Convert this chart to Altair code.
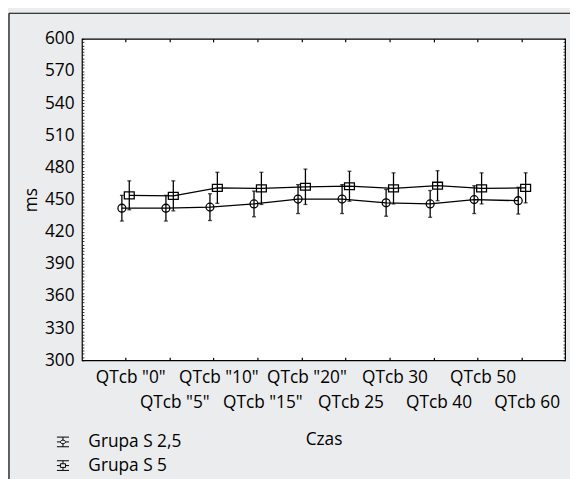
import json
import altair as alt
import pandas as pd

categories = ['QTcb "0"', 'QTcb "5"', 'QTcb "10"', 'QTcb "15"', 'QTcb "20"',
              'QTcb 25', 'QTcb 30', 'QTcb 40', 'QTcb 50', 'QTcb 60']
groups = ["Grupa S 2,5", "Grupa S 5"]

mean_s25 = [442, 442, 443, 446, 450.5, 450.5, 447, 446, 450, 449]
err_s25 = [12, 12, 12.5, 12, 13.5, 13.5, 12.5, 12.5, 13, 12.5]
mean_s5 = [454, 453.5, 461, 460.5, 462, 462.5, 460.5, 463, 460.5, 461]
err_s5 = [13.5, 14, 14.5, 15, 16.5, 14, 14.5, 14, 14.5, 14]

y_ticks = list(range(300, 601, 30))
y_minor = list(range(300, 601, 3))

rows = []
for g, means, errs in [(groups[0], mean_s25, err_s25), (groups[1], mean_s5, err_s5)]:
    for c, m, e in zip(categories, means, errs):
        rows.append({"czas": c, "grupa": g, "mean": m, "lo": m - e, "hi": m + e})
df = pd.DataFrame(rows)

W, H = 490, 326
FONT = "Open Sans"
FS = 17.5
odd_labels = json.dumps(categories[1::2])

xscale = alt.Scale(type="point", domain=categories, padding=0.985)
yscale = alt.Scale(domain=[300, 600], nice=False, zero=False)

ax_x_main = alt.Axis(title="Czas", orient="bottom", domain=False, ticks=False,
                     labelAngle=0, labelOverlap=False, labelFont=FONT, labelFontSize=FS,
                     labelColor="black", labelPadding=8, labelLineHeight=25.6, labelOffset=5,
                     labelExpr=f"indexof({odd_labels}, datum.value) >= 0 ? ['', datum.label] : datum.label",
                     titleFont=FONT, titleFontSize=FS, titleFontWeight="normal",
                     titleColor="black", titlePadding=20, zindex=1)
ax_y_main = alt.Axis(title="ms", orient="left", values=y_ticks, domain=False, ticks=False,
                     labelFont=FONT, labelFontSize=FS, labelColor="black", labelPadding=8,
                     titleFont=FONT, titleFontSize=FS, titleFontWeight="normal",
                     titleColor="black", titlePadding=4, grid=False, zindex=1)
# inward ticks: bottom edge (top-oriented axis moved down), top edge
ax_x_in_bottom = alt.Axis(title=None, orient="top", offset=-H, domain=False, labels=False,
                          ticks=True, tickSize=3, tickColor="black", tickWidth=1.2, zindex=1)
ax_x_in_top = alt.Axis(title=None, orient="bottom", offset=-H, domain=False, labels=False,
                       ticks=True, tickSize=3, tickColor="black", tickWidth=1.2, zindex=1)
ax_y_in_left = alt.Axis(title=None, orient="right", offset=-W, values=y_minor, domain=False,
                        labels=False, ticks=True, tickSize=2, tickColor="black",
                        tickWidth=0.8, grid=False, zindex=1)
ax_y_in_right = alt.Axis(title=None, orient="left", offset=-W, values=y_minor, domain=False,
                         labels=False, ticks=True, tickSize=2, tickColor="black",
                         tickWidth=0.8, grid=False, zindex=1)

base = alt.Chart(df)
OFF = {groups[0]: -3.5, groups[1]: 4}


def X(axis=None):
    return alt.X("czas:N", sort=categories, scale=xscale, axis=axis)


def Y(field, axis=None):
    return alt.Y(f"{field}:Q", scale=yscale, axis=axis)


layers = []
axes_cycle = [
    (ax_x_main, ax_y_main),
    (ax_x_in_bottom, ax_y_in_left),
    (ax_x_in_top, ax_y_in_right),
]
k = 0
rect_path = "M-1,-0.7H1V0.7H-1Z"
for g in groups:
    sub = base.transform_filter(alt.datum.grupa == g)
    off = alt.value(OFF[g])
    ax = axes_cycle[k] if k < len(axes_cycle) else (None, None)
    k += 1
    line = sub.mark_line(color="black", strokeWidth=1.3).encode(
        x=X(ax[0]), y=Y("mean", ax[1]), xOffset=off)
    ax = axes_cycle[k] if k < len(axes_cycle) else (None, None)
    k += 1
    whisk = sub.mark_rule(color="black", strokeWidth=1.3).encode(
        x=X(ax[0]), y=Y("lo", ax[1]), y2="hi:Q", xOffset=off)
    cap_lo = sub.mark_tick(color="black", orient="horizontal", size=4, thickness=1.3).encode(
        x=X(), y=Y("lo"), xOffset=off)
    cap_hi = sub.mark_tick(color="black", orient="horizontal", size=4, thickness=1.3).encode(
        x=X(), y=Y("hi"), xOffset=off)
    if g == groups[0]:
        pt = sub.mark_point(shape="circle", filled=False, size=64, strokeWidth=1.3,
                            color="black", opacity=1)
    else:
        pt = sub.mark_point(shape=rect_path, filled=False, size=100, strokeWidth=1.3,
                            color="black", opacity=1)
    pt = pt.encode(x=X(), y=Y("mean"), xOffset=off)
    layers += [line, whisk, cap_lo, cap_hi, pt]

leg_circle = ("M-1,-0.8H1M-1,0.8H1M-1,0H-0.42M0.42,0H1M0,-0.8V-0.3M0,0.3V0.8"
              "M-0.42,0A0.42,0.3 0 1,0 0.42,0A0.42,0.3 0 1,0 -0.42,0")
leg_square = ("M-1,-0.8H1M-1,0.8H1M-1,0H-0.42M0.42,0H1M0,-0.8V-0.3M0,0.3V0.8"
              "M-0.42,-0.3H0.42V0.3H-0.42Z")
legend_layer = base.transform_filter("false").mark_point(
    filled=False, color="black", strokeWidth=1, opacity=1, size=150).encode(
    x=X(), y=Y("mean"),
    shape=alt.Shape("grupa:N", scale=alt.Scale(domain=groups, range=[leg_circle, leg_square]),
                    legend=alt.Legend(title=None, orient="none", legendX=-28, legendY=400,
                                      labelFont=FONT, labelFontSize=FS, labelColor="black",
                                      labelOffset=17, symbolSize=150, symbolStrokeWidth=1,
                                      symbolStrokeColor="black", symbolFillColor="transparent",
                                      rowPadding=5, padding=0, zindex=1)))
layers.append(legend_layer)

frame_left = alt.Chart(pd.DataFrame({"a": [0]})).mark_rule(color="black", strokeWidth=1.2).encode(
    x=alt.value(-74), y=alt.value(-26), y2=alt.value(H + 130))
frame_top = alt.Chart(pd.DataFrame({"a": [0]})).mark_rule(color="black", strokeWidth=1.2).encode(
    x=alt.value(-74), x2=alt.value(W + 20), y=alt.value(-26))
layers += [frame_left, frame_top]

chart = alt.layer(*layers).resolve_axis(x="independent", y="independent").properties(
    width=W, height=H,
    autosize=alt.AutoSizeParams(type="none"),
    padding={"left": 75, "top": 28, "right": 5, "bottom": 117},
    background="#ebeced",
).configure_view(fill="white", stroke="black", strokeWidth=1.2)

chart.save("out.html", embed_options={"renderer": "svg", "actions": False})
